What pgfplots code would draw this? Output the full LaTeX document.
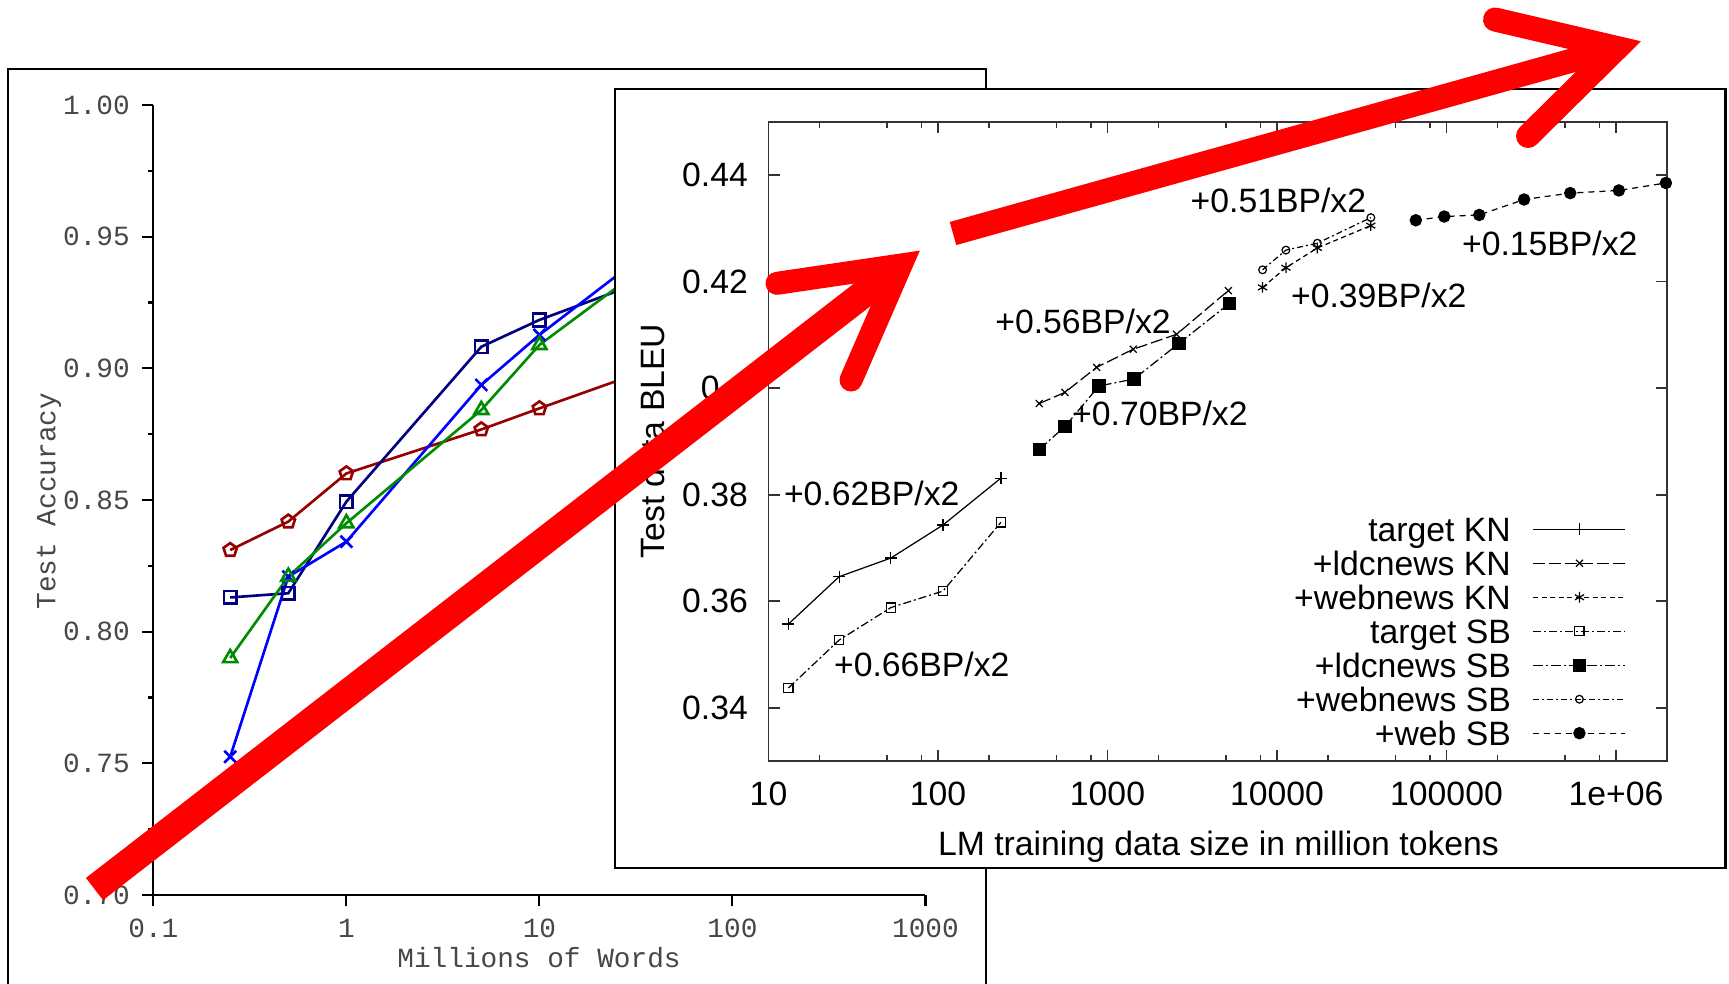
\documentclass[border=0pt]{standalone}
\usepackage{fontspec}
\setmainfont{Liberation Sans}
\newfontfamily\cour{Liberation Mono}
\usepackage{pgfplots}
\pgfplotsset{compat=1.18}

\definecolor{bbred}{RGB}{150,0,0}
\definecolor{bbnavy}{RGB}{0,0,128}
\definecolor{bbblue}{RGB}{0,0,255}
\definecolor{bbgreen}{RGB}{0,140,0}

\newcommand{\rfont}{\fontsize{9.6pt}{11pt}\selectfont}
\newcommand{\lfont}{\fontsize{7.9pt}{9pt}\selectfont\cour}

\begin{document}
\begin{tikzpicture}
\path[use as bounding box] (0,0) rectangle (172.9mm,-98.3mm);

% back panel: accuracy vs words
\draw[line width=0.6pt, fill=white] (0.8mm,-6.9mm) rectangle (98.6mm,-102mm);

\begin{axis}[
  at={(15.34mm,-89.5mm)}, anchor=south west,
  width=77.2mm, height=79mm, scale only axis,
  xmode=log, xmin=0.1, xmax=1000, ymin=0.70, ymax=1.00,
  axis lines*=left, clip=false,
  axis line style={line width=0.6pt},
  xtick={0.1,1,10,100,1000}, xticklabels={0.1,1,10,100,1000},
  xminorticks=false,
  ytick={0.70,0.75,0.80,0.85,0.90,0.95,1.00},
  yticklabels={0.70,0.75,0.80,0.85,0.90,0.95,1.00},
  minor ytick={0.725,0.775,0.825,0.875,0.925,0.975},
  tick align=outside,
  major tick length=1.1mm, minor tick length=0.5mm,
  every tick/.style={line width=0.6pt, black},
  tick label style={font=\lfont, text=black!72, inner sep=0pt},
  yticklabel style={xshift=-1.2mm},
  xticklabel style={yshift=-1.25mm},
]
\addplot[bbred, line width=0.75pt, mark=pentagon, mark size=2pt] coordinates {
  (0.25,0.8310) (0.5,0.8418) (1,0.8601) (5,0.8768) (10,0.8848) (50,0.903)
};
\addplot[bbnavy, line width=0.75pt, mark=square, mark size=1.8pt] coordinates {
  (0.25,0.8130) (0.5,0.8146) (1,0.8494) (5,0.9082) (10,0.9184) (50,0.9374)
};
\addplot[bbblue, line width=0.75pt, mark=x, mark size=2.4pt] coordinates {
  (0.25,0.7525) (0.5,0.8209) (1,0.8342) (5,0.8937) (10,0.9127) (50,0.952)
};
\addplot[bbgreen, line width=0.75pt, mark=triangle, mark size=2.3pt] coordinates {
  (0.25,0.7900) (0.5,0.8209) (1,0.8412) (5,0.8842) (10,0.9089) (50,0.947)
};
\end{axis}

\node[font=\lfont, text=black!72, rotate=90, anchor=base, inner sep=0pt] at (5.54mm,-50.1mm) {Test Accuracy};
\node[font=\lfont, text=black!72, anchor=base, inner sep=0pt] at (53.9mm,-96.75mm) {Millions of Words};

% front panel: BLEU vs LM data size
\draw[line width=0.6pt, fill=white] (61.5mm,-8.9mm) rectangle (172.55mm,-86.8mm);

\begin{axis}[
  at={(76.85mm,-76.1mm)}, anchor=south west,
  width=89.85mm, height=63.93mm, scale only axis,
  xmode=log, xmin=10, xmax=2e6, ymin=0.33, ymax=0.45,
  clip=false,
  axis line style={line width=0.5pt, black!80},
  xtick={10,100,1000,10000,100000,1000000},
  xticklabels={10,100,1000,10000,100000,1e+06},
  minor xtick={20,50,80,200,500,800,2000,5000,8000,20000,50000,80000,200000,500000,800000},
  ytick={0.34,0.36,0.38,0.40,0.42,0.44},
  yticklabels={0.34,0.36,0.38,0.4,0.42,0.44},
  tick align=inside,
  major tick length=1.1mm, minor tick length=0.6mm,
  every tick/.style={line width=0.5pt, black!80},
  tick label style={font=\rfont, inner sep=0pt},
  yticklabel style={xshift=-2mm},
  xticklabel style={yshift=-2.0mm},
  legend cell align=right,
  legend plot pos=right,
  legend style={at={(0.9544,0.3886)}, anchor=north east, draw=none, fill=none,
    font=\rfont, inner sep=0pt, outer sep=0pt, row sep=0.17pt, column sep=2.2mm,
    nodes={inner sep=0pt, text height=8.2pt, text depth=1.3pt}},
  legend image code/.code={\draw[mark repeat=2,mark phase=2,#1] plot coordinates {(0mm,0mm) (4.6mm,0mm) (9.2mm,0mm)};},
]
\addplot[black, line width=0.35pt, mark=+, mark size=1.7pt] coordinates {
  (13.1,0.3557) (26.1,0.3646) (52.7,0.3681) (107,0.3743) (235,0.3831)
};
\addlegendentry{target KN}
\addplot[black, line width=0.35pt, dash pattern=on 1.2mm off 0.4mm, mark=x, mark size=1.4pt, mark options={solid}] coordinates {
  (396,0.3971) (561,0.3992) (863,0.4039) (1419,0.4073) (2558,0.4101) (5164,0.4183)
};
\addlegendentry{+ldcnews KN}
\addplot[black, line width=0.35pt, dash pattern=on 0.5mm off 0.35mm, mark=asterisk, mark size=1.5pt, mark options={solid}] coordinates {
  (8222,0.4189) (11290,0.4226) (17300,0.4263) (35730,0.4305)
};
\addlegendentry{+webnews KN}
\addplot[black, line width=0.35pt, dash pattern=on 0.8mm off 0.3mm on 0.2mm off 0.3mm, mark=square, mark size=1.3pt, mark options={solid}] coordinates {
  (13.1,0.3437) (26.1,0.3527) (52.7,0.3588) (107,0.3619) (235,0.3748)
};
\addlegendentry{target SB}
\addplot[black, line width=0.35pt, dash pattern=on 1mm off 0.3mm on 0.2mm off 0.3mm, mark=square*, mark size=1.7pt, mark options={solid}] coordinates {
  (396,0.3885) (561,0.3928) (891,0.4004) (1432,0.4017) (2642,0.4084) (5236,0.4159)
};
\addlegendentry{+ldcnews SB}
\addplot[black, line width=0.35pt, dash pattern=on 0.6mm off 0.3mm on 0.2mm off 0.3mm, mark=o, mark size=1.1pt, mark options={solid}] coordinates {
  (8222,0.4222) (11290,0.4259) (17300,0.4272) (35800,0.4320)
};
\addlegendentry{+webnews SB}
\addplot[black, line width=0.35pt, dash pattern=on 0.6mm off 0.5mm, mark=*, mark size=1.6pt, mark options={solid}] coordinates {
  (65900,0.4315) (97000,0.4322) (156000,0.4325) (287000,0.4354) (537000,0.4366) (1040000,0.4371) (1970000,0.4385)
};
\addlegendentry{+web SB}
\end{axis}

\node[font=\rfont, rotate=90, inner sep=0pt] at (65.2mm,-44.1mm) {Test data BLEU};
\node[font=\rfont, anchor=base, inner sep=0pt] at (121.85mm,-85.5mm) {LM training data size in million tokens};

\begin{scope}[font=\rfont, every node/.style={anchor=base, inner sep=0pt}]
\node at (87.17mm,-50.5mm) {+0.62BP/x2};
\node at (92.18mm,-67.67mm) {+0.66BP/x2};
\node at (115.99mm,-42.5mm) {+0.70BP/x2};
\node at (108.3mm,-33.33mm) {+0.56BP/x2};
\node at (127.84mm,-21.27mm) {+0.51BP/x2};
\node at (154.98mm,-25.5mm) {+0.15BP/x2};
\node at (137.88mm,-30.73mm) {+0.39BP/x2};
\end{scope}

% red arrow on top
\begin{scope}[x=0.1mm, y=-0.1mm]
\draw[red, line width=2.8mm, line cap=butt] (94.5,889) -- (893,271);
\draw[red, line width=2.3mm, line cap=round, line join=miter] (777,283.3) -- (901,265) -- (851,380);
\draw[red, line width=2.4mm, line cap=butt] (953,233.5) -- (1607,50.7);
\draw[red, line width=2.4mm, line cap=round, line join=miter] (1495,19.5) -- (1617,48) -- (1528,136);
\end{scope}
\end{tikzpicture}
\end{document}
